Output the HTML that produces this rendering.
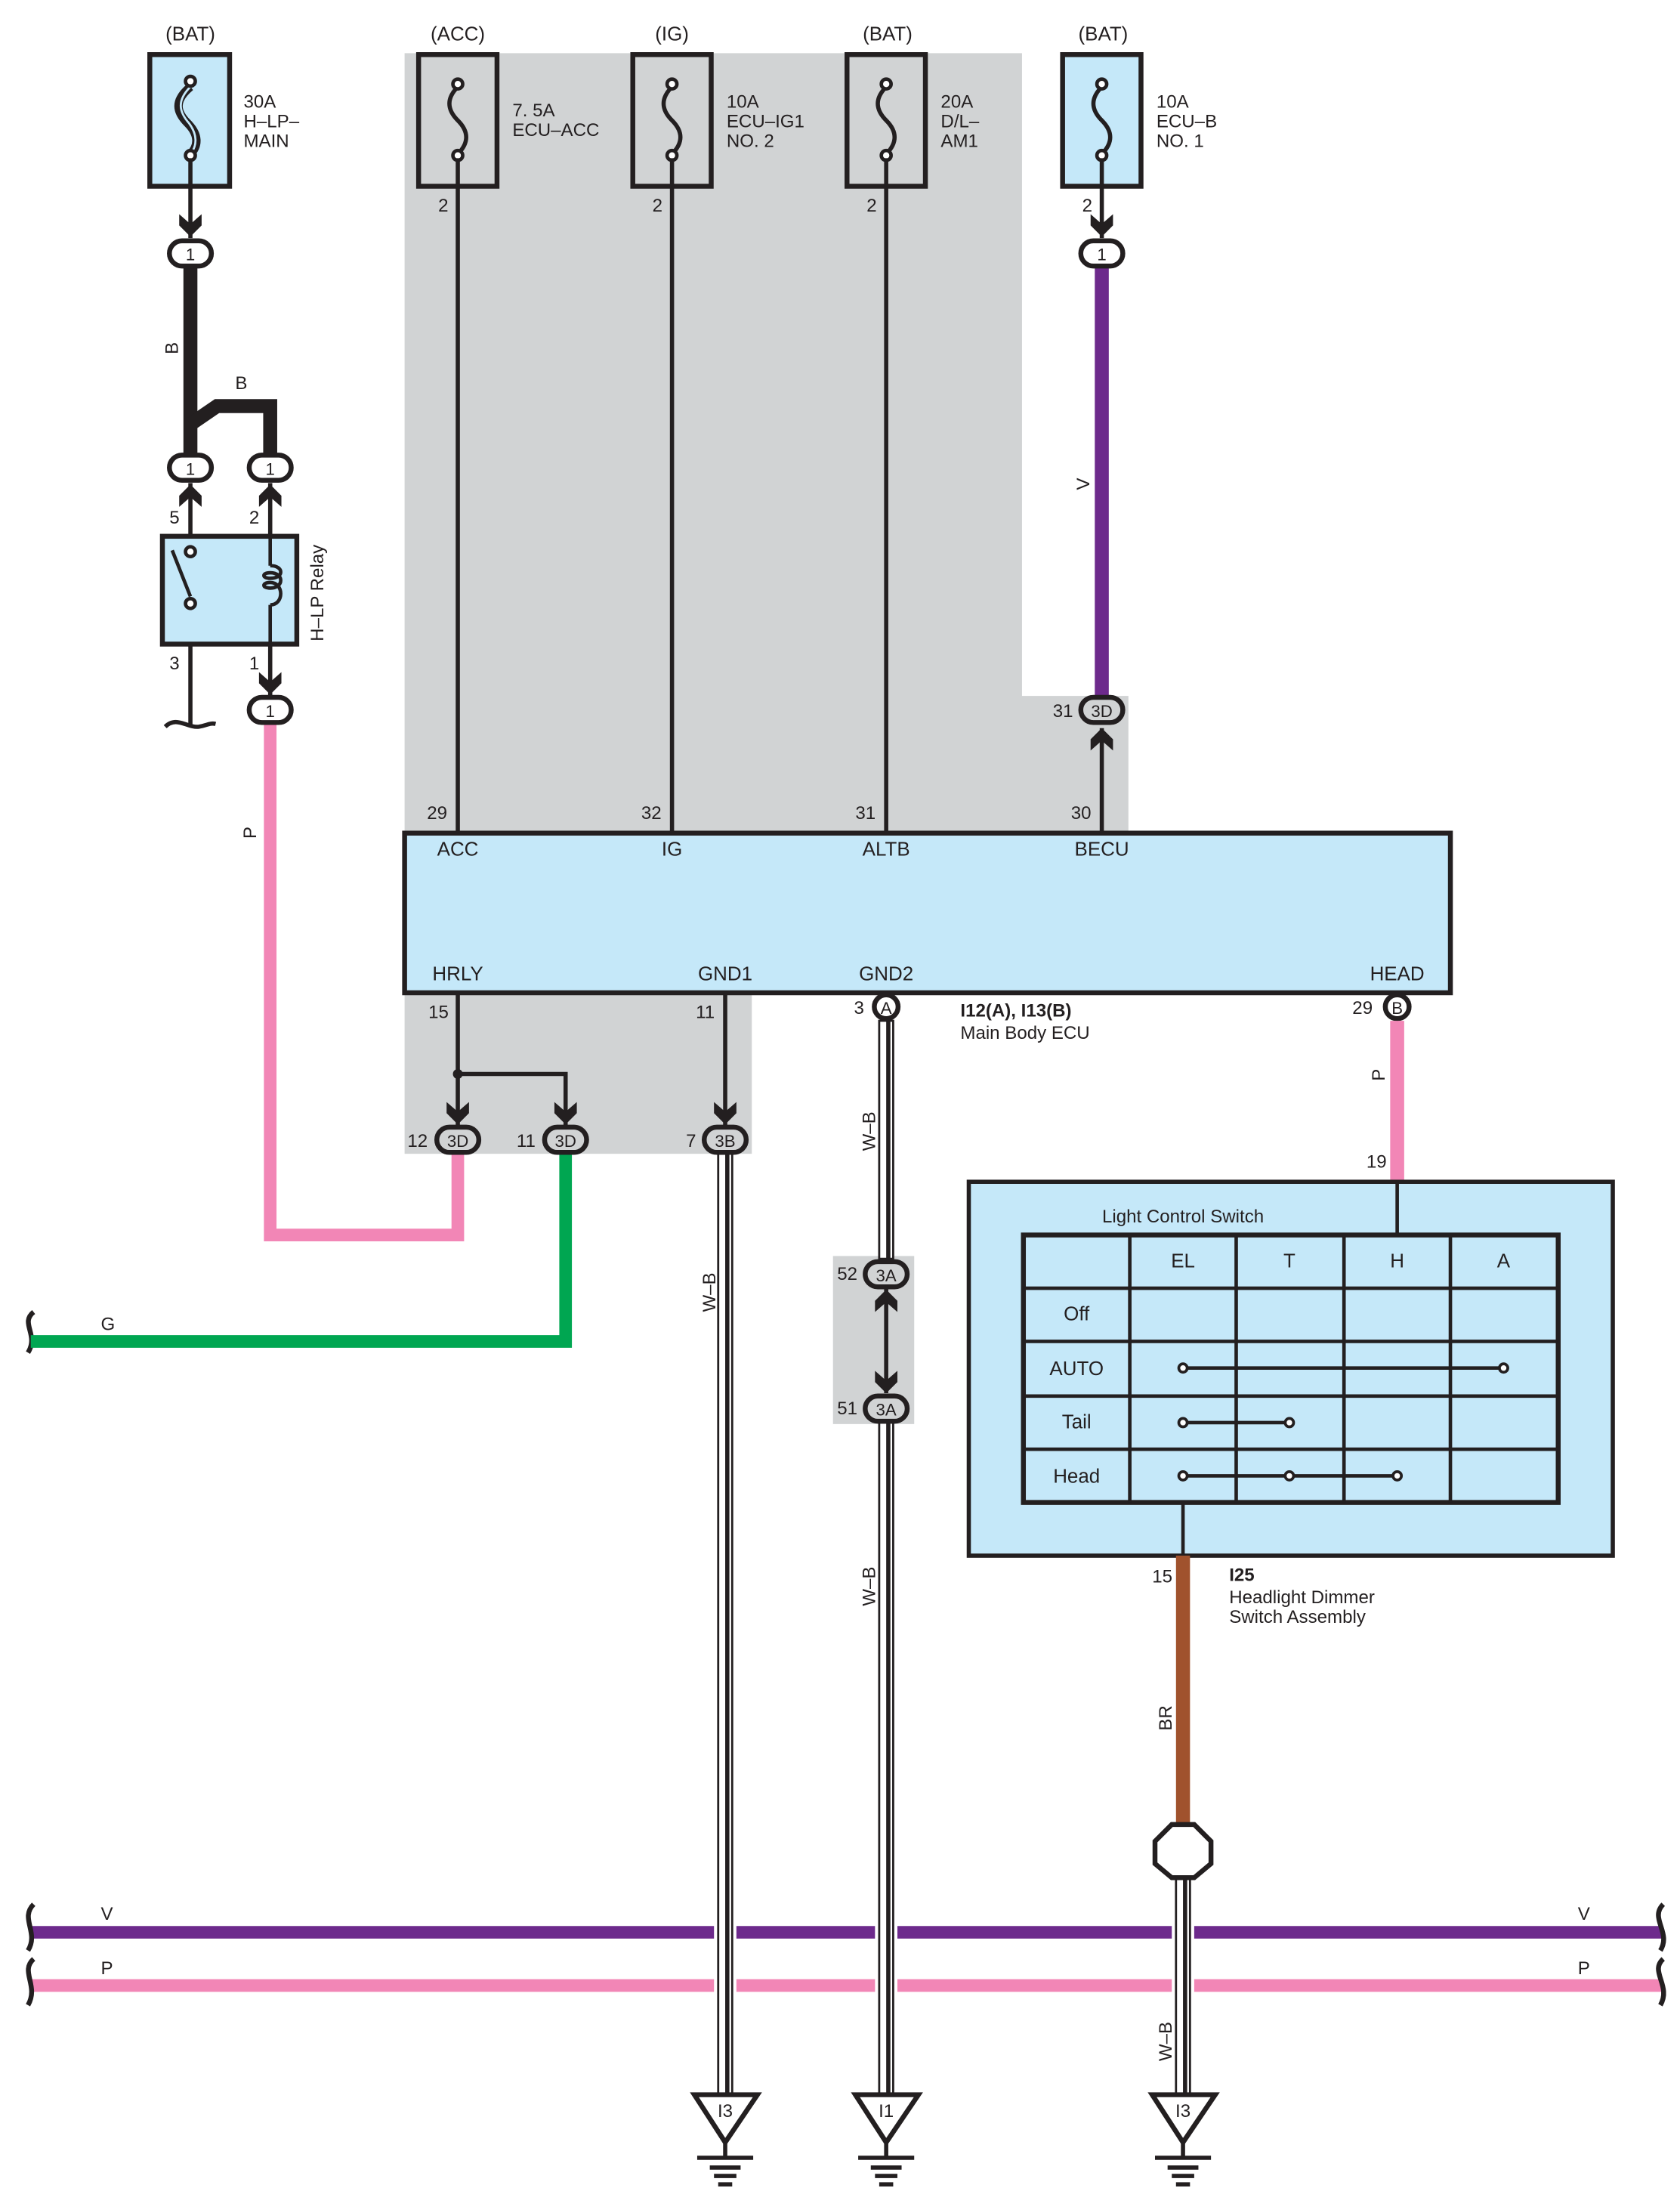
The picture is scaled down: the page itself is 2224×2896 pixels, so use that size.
<!DOCTYPE html>
<html><head><meta charset="utf-8"><style>
html,body{margin:0;padding:0;background:#fff}
svg{display:block}
text{font-family:"Liberation Sans",sans-serif;fill:#231f20}
</style></head><body>
<svg width="2224" height="2896" viewBox="0 0 1200 1562.6" xmlns="http://www.w3.org/2000/svg">
<defs>
<path id="chd" d="M-8,-11 L0,-4 L8,-11 L8,-3 L0,5 L-8,-3 Z" fill="#231f20"/>
<path id="chu" d="M-8,11 L0,4 L8,11 L8,3 L0,-5 L-8,3 Z" fill="#231f20"/>
</defs>
<path d="M289,38 H730 V497 H806 V594 H289 Z" fill="#d1d3d4"/>
<rect x="289" y="709" width="248" height="115" fill="#d1d3d4"/>
<rect x="595" y="897" width="58" height="120" fill="#d1d3d4"/>

<g stroke-width="9" fill="none">
<line x1="22" y1="1380" x2="1188" y2="1380" stroke="#6d2a8c"/>
<line x1="22" y1="1418" x2="1188" y2="1418" stroke="#f286b6"/>
</g>
<g fill="#fff">
<rect x="510" y="1370" width="16" height="60"/>
<rect x="625" y="1370" width="16" height="60"/>
<rect x="837" y="1370" width="16" height="60"/>
</g>
<g fill="none" stroke="#231f20" stroke-width="3.5">
<path d="M24,937 C14,945 28,953 20,966"/>
<path d="M24,1360 C14,1370 28,1380 20,1393"/>
<path d="M24,1399 C14,1408 28,1418 20,1432"/>
<path d="M1188,1360 C1178,1370 1194,1380 1186,1393"/>
<path d="M1188,1399 C1178,1408 1194,1418 1186,1432"/>
</g>
<text x="72" y="1371" font-size="13">V</text>
<text x="72" y="1410" font-size="13">P</text>
<text x="1127" y="1371" font-size="13">V</text>
<text x="1127" y="1410" font-size="13">P</text>

<g font-size="14" text-anchor="middle">
<text x="136" y="29">(BAT)</text><text x="327" y="29">(ACC)</text><text x="480" y="29">(IG)</text><text x="634" y="29">(BAT)</text><text x="788" y="29">(BAT)</text>
</g>
<g stroke="#231f20" stroke-width="3.5">
<rect x="107" y="39" width="57" height="94" fill="#c5e8f9"/>
<rect x="299" y="39" width="56" height="94" fill="none"/>
<rect x="452" y="39" width="56" height="94" fill="none"/>
<rect x="605" y="39" width="56" height="94" fill="none"/>
<rect x="759" y="39" width="56" height="94" fill="#c5e8f9"/>
</g>
<g fill="none" stroke="#231f20" stroke-width="3">
<path d="M327,62 C319,70 319,78 327,86 C335,94 335,102 327,110"/>
<path d="M480,62 C472,70 472,78 480,86 C488,94 488,102 480,110"/>
<path d="M633,62 C625,70 625,78 633,86 C641,94 641,102 633,110"/>
<path d="M787,62 C779,70 779,78 787,86 C795,94 795,102 787,110"/>
<path d="M136,62 C124,72 126,80 134,88 C142,96 142,104 136,110" stroke-width="6"/>
<path d="M136,62 C126,72 128,80 135,88 C141,96 141,104 136,110" stroke="#c5e8f9" stroke-width="1.5"/>
</g>
<g fill="#fff" stroke="#231f20" stroke-width="2.5">
<circle cx="327" cy="60" r="3.5"/><circle cx="327" cy="111" r="3.5"/>
<circle cx="480" cy="60" r="3.5"/><circle cx="480" cy="111" r="3.5"/>
<circle cx="633" cy="60" r="3.5"/><circle cx="633" cy="111" r="3.5"/>
<circle cx="787" cy="60" r="3.5"/><circle cx="787" cy="111" r="3.5"/>
<circle cx="136" cy="58" r="3.5"/><circle cx="136" cy="111" r="3.5"/>
</g>
<g font-size="13">
<text x="174" y="77">30A</text><text x="174" y="91">H–LP–</text><text x="174" y="105">MAIN</text>
<text x="366" y="83">7. 5A</text><text x="366" y="97">ECU–ACC</text>
<text x="519" y="77">10A</text><text x="519" y="91">ECU–IG1</text><text x="519" y="105">NO. 2</text>
<text x="672" y="77">20A</text><text x="672" y="91">D/L–</text><text x="672" y="105">AM1</text>
<text x="826" y="77">10A</text><text x="826" y="91">ECU–B</text><text x="826" y="105">NO. 1</text>
<text x="313" y="151">2</text><text x="466" y="151">2</text><text x="619" y="151">2</text><text x="773" y="151">2</text>
</g>

<g stroke="#231f20" stroke-width="3" fill="none">
<line x1="327" y1="113" x2="327" y2="594"/>
<line x1="480" y1="113" x2="480" y2="594"/>
<line x1="633" y1="113" x2="633" y2="594"/>
<line x1="787" y1="113" x2="787" y2="170"/>
<line x1="787" y1="520" x2="787" y2="594"/>
<line x1="136" y1="113" x2="136" y2="170"/>
<line x1="136" y1="345" x2="136" y2="393"/>
<line x1="193" y1="345" x2="193" y2="497"/>
<line x1="136" y1="446" x2="136" y2="518"/>
<path d="M118,519 C126,511 134,520 142,519 C148,518 150,516 154,517"/>
</g>
<line x1="787" y1="190" x2="787" y2="497" stroke="#6d2a8c" stroke-width="10"/>
<text transform="translate(778,350) rotate(-90)" font-size="13">V</text>

<g stroke="#231f20" stroke-width="10" fill="none" stroke-linejoin="miter">
<line x1="136" y1="190" x2="136" y2="326"/>
<path d="M136,303 L155,290 H193 V326"/>
</g>
<text transform="translate(127,253) rotate(-90)" font-size="13">B</text>
<text x="168" y="278" font-size="13">B</text>

<rect x="116" y="383" width="96" height="77" fill="#c5e8f9" stroke="#231f20" stroke-width="3.5"/>
<line x1="123" y1="393" x2="136" y2="426" stroke="#231f20" stroke-width="2.5"/>
<line x1="193" y1="383" x2="193" y2="404" stroke="#231f20" stroke-width="2.5"/>
<line x1="193" y1="432" x2="193" y2="460" stroke="#231f20" stroke-width="2.5"/>
<path d="M193,404 C203,404 203,413 193,413 C187,413 187,409 193,409 C203,409 203,420 193,420 C187,420 187,416 193,416 C203,416 203,432 193,432" fill="none" stroke="#231f20" stroke-width="2.5"/>
<circle cx="136" cy="394" r="3.5" fill="#fff" stroke="#231f20" stroke-width="2.5"/>
<circle cx="136" cy="431" r="3.5" fill="#fff" stroke="#231f20" stroke-width="2.5"/>
<text transform="translate(231,458) rotate(-90)" font-size="13">H–LP Relay</text>
<g font-size="13"><text x="121" y="374">5</text><text x="178" y="374">2</text><text x="121" y="478">3</text><text x="178" y="478">1</text></g>

<path d="M193,517 V882 H327 V824" fill="none" stroke="#f286b6" stroke-width="9"/>
<text transform="translate(183,599) rotate(-90)" font-size="13">P</text>
<path d="M22,958 H404 V824" fill="none" stroke="#00a651" stroke-width="9"/>
<text x="72" y="950" font-size="13">G</text>

<rect x="289" y="595" width="747" height="114" fill="#c5e8f9" stroke="#231f20" stroke-width="3.5"/>
<g font-size="14" text-anchor="middle">
<text x="327" y="611">ACC</text><text x="480" y="611">IG</text><text x="633" y="611">ALTB</text><text x="787" y="611">BECU</text>
<text x="327" y="700">HRLY</text><text x="518" y="700">GND1</text><text x="633" y="700">GND2</text><text x="998" y="700">HEAD</text>
</g>
<g font-size="13">
<text x="305" y="585">29</text><text x="458" y="585">32</text><text x="611" y="585">31</text><text x="765" y="585">30</text>
<text x="752" y="512">31</text>
<text x="306" y="727">15</text><text x="497" y="727">11</text><text x="610" y="724">3</text><text x="966" y="724">29</text>
<text x="291" y="819">12</text><text x="369" y="819">11</text><text x="490" y="819">7</text>
<text x="598" y="914">52</text><text x="598" y="1010">51</text>
<text x="976" y="834">19</text><text x="823" y="1130">15</text>
</g>
<text x="686" y="726" font-size="13" font-weight="bold">I12(A), I13(B)</text>
<text x="686" y="742" font-size="13">Main Body ECU</text>

<g stroke="#231f20" stroke-width="3" fill="none">
<line x1="327" y1="709" x2="327" y2="804"/>
<path d="M327,767 H404 V804"/>
<line x1="518" y1="709" x2="518" y2="804"/>
</g>
<circle cx="327" cy="767" r="3.5" fill="#231f20"/>

<g>
<rect x="513" y="824" width="10" height="672" fill="#fff" stroke="#231f20" stroke-width="1.5"/>
<line x1="519.5" y1="824" x2="519.5" y2="1496" stroke="#231f20" stroke-width="3"/>
<rect x="628" y="729" width="10" height="170" fill="#fff" stroke="#231f20" stroke-width="1.5"/>
<line x1="634.5" y1="729" x2="634.5" y2="899" stroke="#231f20" stroke-width="3"/>
<rect x="628" y="1016" width="10" height="480" fill="#fff" stroke="#231f20" stroke-width="1.5"/>
<line x1="634.5" y1="1016" x2="634.5" y2="1496" stroke="#231f20" stroke-width="3"/>
<rect x="840" y="1340" width="10" height="156" fill="#fff" stroke="#231f20" stroke-width="1.5"/>
<line x1="846.5" y1="1340" x2="846.5" y2="1496" stroke="#231f20" stroke-width="3"/>
<line x1="633" y1="920" x2="633" y2="995" stroke="#231f20" stroke-width="3"/>
</g>
<g font-size="13">
<text transform="translate(625,822) rotate(-90)">W–B</text>
<text transform="translate(511,937) rotate(-90)">W–B</text>
<text transform="translate(625,1147) rotate(-90)">W–B</text>
<text transform="translate(837,1472) rotate(-90)">W–B</text>
<text transform="translate(837,1236) rotate(-90)">BR</text>
<text transform="translate(989,772) rotate(-90)">P</text>
</g>

<g stroke="#231f20" stroke-width="3.5" fill="#fff">
<rect x="121" y="172" width="30" height="18" rx="9"/>
<rect x="121" y="325" width="30" height="18" rx="9"/>
<rect x="178" y="325" width="30" height="18" rx="9"/>
<rect x="178" y="498" width="30" height="18" rx="9"/>
<rect x="772" y="172" width="30" height="18" rx="9"/>
<rect x="772" y="498" width="30" height="18" rx="9" fill="#d1d3d4"/>
<rect x="312" y="805" width="30" height="18" rx="9" fill="#d1d3d4"/>
<rect x="389" y="805" width="30" height="18" rx="9" fill="#d1d3d4"/>
<rect x="503" y="805" width="30" height="18" rx="9" fill="#d1d3d4"/>
<rect x="618" y="901" width="30" height="18" rx="9" fill="#d1d3d4"/>
<rect x="618" y="997" width="30" height="18" rx="9" fill="#d1d3d4"/>
<circle cx="633" cy="719" r="8.5"/>
<circle cx="998" cy="719" r="8.5"/>
</g>
<g font-size="12" text-anchor="middle">
<text x="136" y="186">1</text><text x="136" y="339">1</text><text x="193" y="339">1</text><text x="193" y="512">1</text>
<text x="787" y="186">1</text><text x="787" y="512">3D</text>
<text x="327" y="819">3D</text><text x="404" y="819">3D</text><text x="518" y="819">3B</text>
<text x="633" y="915">3A</text><text x="633" y="1011">3A</text>
<text x="633" y="724">A</text><text x="998" y="724">B</text>
</g>
<use href="#chd" x="136" y="164"/>
<use href="#chd" x="787" y="164"/>
<use href="#chd" x="193" y="491"/>
<use href="#chd" x="327" y="798"/>
<use href="#chd" x="404" y="798"/>
<use href="#chd" x="518" y="798"/>
<use href="#chd" x="633" y="990"/>
<use href="#chu" x="136" y="351"/>
<use href="#chu" x="193" y="351"/>
<use href="#chu" x="787" y="525"/>
<use href="#chu" x="633" y="926"/>

<line x1="998" y1="729" x2="998" y2="843" stroke="#f286b6" stroke-width="10"/>
<rect x="692" y="844" width="460" height="267" fill="#c5e8f9" stroke="#231f20" stroke-width="3"/>
<line x1="998" y1="844" x2="998" y2="881" stroke="#231f20" stroke-width="2.5"/>
<line x1="845" y1="1073" x2="845" y2="1111" stroke="#231f20" stroke-width="2.5"/>
<text x="845" y="873" font-size="13" text-anchor="middle">Light Control Switch</text>
<rect x="731" y="882" width="382" height="191" fill="none" stroke="#231f20" stroke-width="3.5"/>
<g stroke="#231f20" stroke-width="2.5">
<line x1="807" y1="882" x2="807" y2="1073"/><line x1="883" y1="882" x2="883" y2="1073"/>
<line x1="960" y1="882" x2="960" y2="1073"/><line x1="1036" y1="882" x2="1036" y2="1073"/>
<line x1="731" y1="920" x2="1113" y2="920"/><line x1="731" y1="958" x2="1113" y2="958"/>
<line x1="731" y1="997" x2="1113" y2="997"/><line x1="731" y1="1035" x2="1113" y2="1035"/>
<line x1="845" y1="977" x2="1074" y2="977"/>
<line x1="845" y1="1016" x2="921" y2="1016"/>
<line x1="845" y1="1054" x2="998" y2="1054"/>
</g>
<g fill="#fff" stroke="#231f20" stroke-width="2">
<circle cx="845" cy="977" r="3"/><circle cx="1074" cy="977" r="3"/>
<circle cx="845" cy="1016" r="3"/><circle cx="921" cy="1016" r="3"/>
<circle cx="845" cy="1054" r="3"/><circle cx="921" cy="1054" r="3"/><circle cx="998" cy="1054" r="3"/>
</g>
<g font-size="14" text-anchor="middle">
<text x="845" y="905">EL</text><text x="921" y="905">T</text><text x="998" y="905">H</text><text x="1074" y="905">A</text>
<text x="769" y="943">Off</text><text x="769" y="982">AUTO</text><text x="769" y="1020">Tail</text><text x="769" y="1059">Head</text>
</g>
<text x="878" y="1129" font-size="13" font-weight="bold">I25</text>
<text x="878" y="1145" font-size="13">Headlight Dimmer</text>
<text x="878" y="1159" font-size="13">Switch Assembly</text>

<line x1="845" y1="1111" x2="845" y2="1303" stroke="#a0522d" stroke-width="10"/>
<polygon points="837,1303 853,1303 865,1315 865,1331 853,1341 837,1341 825,1331 825,1315" fill="#fff" stroke="#231f20" stroke-width="3.5"/>

<g fill="#fff" stroke="#231f20" stroke-width="3.5" stroke-linejoin="miter">
<polygon points="496,1496 541,1496 518,1530"/>
<polygon points="611,1496 656,1496 633,1530"/>
<polygon points="823,1496 868,1496 845,1530"/>
</g>
<g stroke="#231f20" stroke-width="3">
<line x1="518" y1="1530" x2="518" y2="1541"/><line x1="498" y1="1541" x2="538" y2="1541"/><line x1="507" y1="1548" x2="529" y2="1548"/><line x1="510" y1="1554" x2="526" y2="1554"/><line x1="513" y1="1560" x2="523" y2="1560"/>
<line x1="633" y1="1530" x2="633" y2="1541"/><line x1="613" y1="1541" x2="653" y2="1541"/><line x1="622" y1="1548" x2="644" y2="1548"/><line x1="625" y1="1554" x2="641" y2="1554"/><line x1="628" y1="1560" x2="638" y2="1560"/>
<line x1="845" y1="1530" x2="845" y2="1541"/><line x1="825" y1="1541" x2="865" y2="1541"/><line x1="834" y1="1548" x2="856" y2="1548"/><line x1="837" y1="1554" x2="853" y2="1554"/><line x1="840" y1="1560" x2="850" y2="1560"/>
</g>
<g font-size="13" text-anchor="middle">
<text x="518" y="1512">I3</text><text x="633" y="1512">I1</text><text x="845" y="1512">I3</text>
</g>
</svg>
</body></html>
